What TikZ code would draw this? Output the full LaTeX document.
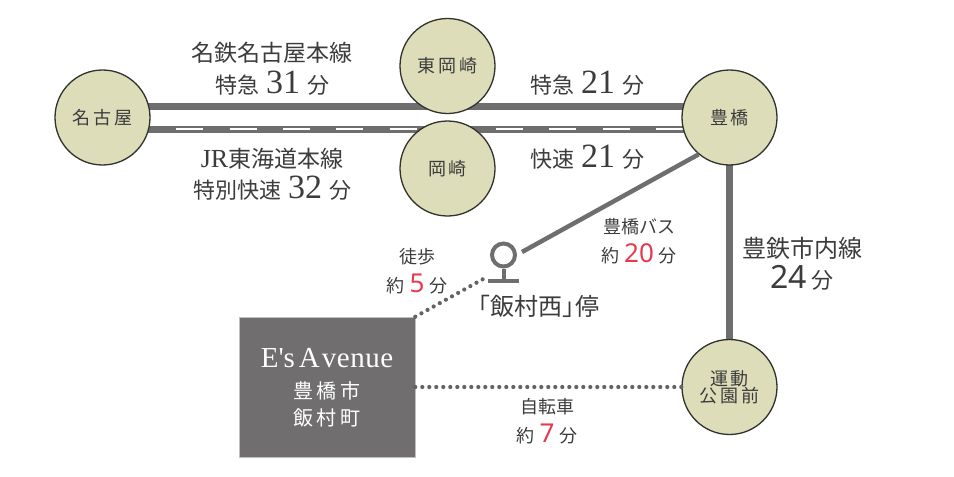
\documentclass[tikz,border=0pt]{standalone}
\usepackage{fontspec}
\setmainfont{Noto Sans CJK JP}
\newfontfamily\jpfont{Noto Sans CJK JP}
\newfontfamily\serifnum{Liberation Serif}
\newfontfamily\sansnum{Noto Sans}
\definecolor{stfill}{RGB}{221,221,186}
\definecolor{stline}{RGB}{50,50,45}
\definecolor{railgray}{RGB}{110,110,110}
\definecolor{txt}{RGB}{60,60,60}
\definecolor{rednum}{RGB}{232,56,80}
\definecolor{boxgray}{RGB}{112,110,110}
\newcommand{\fs}[1]{\fontsize{#1}{#1}\selectfont}
\newcommand{\snum}[1]{{\serifnum\fs{34}#1}}
\newcommand{\rnum}[1]{{\sansnum\fs{26}\color{rednum}#1}}
\tikzset{
  station/.style={circle, draw=stline, line width=1.3pt, fill=stfill,
    minimum size=95pt, inner sep=0pt, text=txt, font=\jpfont\fs{18}},
  rail/.style={line width=7pt, draw=railgray},
  busline/.style={line width=4.5pt, draw=railgray},
  jrdash/.style={line width=2.6pt, draw=white, dash pattern=on 27pt off 26.3pt, dash phase=27pt},
  dotline/.style={draw=railgray!90!black, line width=4.2pt, line cap=round, dash pattern=on 0pt off 7pt},
  lbl/.style={anchor=base, text=txt, inner sep=0pt, font=\jpfont\fs{22}},
  smlbl/.style={anchor=base, text=txt, inner sep=0pt, font=\jpfont\fs{18}},
  boxlbl/.style={anchor=base, text=white, inner sep=0pt, font=\jpfont\fs{20}},
}
\begin{document}
\begin{tikzpicture}[x=1pt,y=-1pt]
\useasboundingbox (0,0) rectangle (954,477);
% stations (positions)
\coordinate (pnagoya) at (102.5,117.5);
\coordinate (phigashi) at (447.5,66);
\coordinate (pokazaki) at (447.5,168.5);
\coordinate (ptoyo) at (729.5,117.5);
\coordinate (pundo) at (729.5,387);
% rails behind circles
\draw[rail] ([yshift=11pt]pnagoya) -- ([yshift=11pt]ptoyo);
\draw[rail] ([yshift=-11.5pt]pnagoya) -- ([yshift=-11.5pt]ptoyo);
\coordinate (jrs) at (150,129);
\coordinate (jre) at (690,129);
\draw[jrdash] (jrs) -- (jre);
\draw[rail] (ptoyo) -- (pundo);
% station circles
\node[station] (nagoya) at (pnagoya) {名\,古\,屋};
\node[station] (higashi) at (phigashi) {東\,岡\,崎};
\node[station] (okazaki) at (pokazaki) {岡\,崎};
\node[station] (toyo) at (ptoyo) {豊\,橋};
\node[station, align=center] (undo) at (pundo) {運\,動\\[-1pt]公\,園\,前};
% bus stop
\node[circle, draw=railgray, line width=4pt, minimum size=23pt, inner sep=0pt] (bus) at (503.5,255) {};
\coordinate (busbarL) at (488,281);
\coordinate (busbarR) at (519,281);
\draw[line width=4pt, draw=railgray] (bus.south) -- (503.5,281);
\draw[line width=4pt, draw=railgray] (busbarL) -- (busbarR);
\coordinate (busend) at (522,252);
\draw[busline] (toyo.230) -- (busend);
% box
\node[draw=black!25, line width=0.6pt, fill=boxgray, minimum width=176pt, minimum height=140pt, inner sep=0pt] (home) at (327,387) {};
\coordinate (walkend) at (485,278);
\draw[dotline] (home.north east) -- (walkend);
\draw[dotline] (home.east) -- (undo.west);
% labels
\node[lbl, font=\jpfont\fs{23}] (l1) at (272,61) {名鉄名古屋本線};
\node[lbl] (l2) at (272,93) {特急\hspace{7pt}\snum{31}\hspace{7pt}分};
\node[lbl, font=\jpfont\fs{23}] (l3) at (272,167) {{\serifnum\fs{26}JR}東海道本線};
\node[lbl] (l4) at (272,198) {特別快速\hspace{7pt}\snum{32}\hspace{7pt}分};
\node[lbl] (l5) at (587,93) {特急\hspace{7pt}\snum{21}\hspace{7pt}分};
\node[lbl] (l6) at (587,167) {快速\hspace{7pt}\snum{21}\hspace{7pt}分};
\node[smlbl] (l7) at (639,233) {豊橋バス};
\node[smlbl] (l8) at (639,262) {約\hspace{5pt}\rnum{20}\hspace{5pt}分};
\node[lbl, font=\jpfont\fs{24}] (l9) at (802,257) {豊鉄市内線};
\node[lbl] (l10) at (802,288) {{\sansnum\fs{32}24}\hspace{5pt}分};
\node[smlbl] (l11) at (417,263) {徒歩};
\node[smlbl] (l12) at (417,292) {約\hspace{5pt}\rnum{5}\hspace{5pt}分};
\node[lbl, font=\jpfont\fs{24}] (l13) at (533,315) {「飯村西」\hspace{-11pt}停};
\node[smlbl] (l14) at (547,413) {自転車};
\node[smlbl] (l15) at (547,442) {約\hspace{5pt}\rnum{7}\hspace{5pt}分};
\node[anchor=base, text=white, inner sep=0pt, font=\serifnum\fs{29}] (l16) at (327,367) {E's\hspace{4pt}A\hspace{2pt}v\hspace{0.5pt}e\hspace{0.5pt}n\hspace{0.5pt}u\hspace{0.5pt}e};
\node[boxlbl] (l17) at (327,398) {豊\,橋\,市};
\node[boxlbl] (l18) at (327,425) {飯\,村\,町};
\end{tikzpicture}
\end{document}
